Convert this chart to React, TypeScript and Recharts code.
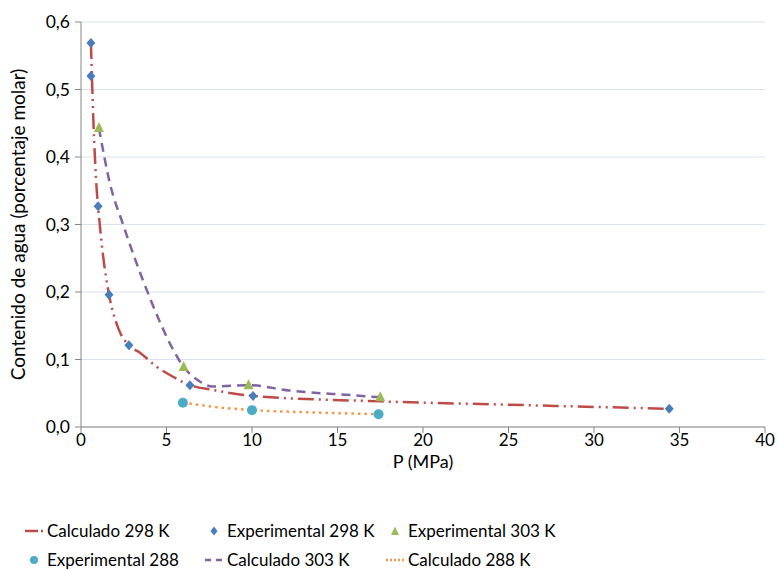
import { ComposedChart, Line, Scatter, XAxis, YAxis, CartesianGrid } from "recharts";

const FONT = "Lato, 'Open Sans', sans-serif";

// experimental points
const expP298 = [0.58, 0.58, 1.0, 1.64, 2.8, 6.37, 10.06, 34.4];
const expW298 = [0.569, 0.52, 0.327, 0.196, 0.121, 0.062, 0.046, 0.027];
const expP303 = [1.05, 6.0, 9.8, 17.5];
const expW303 = [0.443, 0.089, 0.062, 0.044];
const expP288 = [5.96, 10.0, 17.4];
const expW288 = [0.036, 0.025, 0.019];

// calculated curves
const calcP298 = [0.58, 0.73, 0.92, 1.0, 1.3, 1.64, 2.2, 2.8, 3.45, 4.44, 5.2, 6.37, 7.7, 10.06, 17.5, 25, 34.4];
const calcW298 = [0.569, 0.45, 0.351, 0.327, 0.252, 0.196, 0.145, 0.121, 0.11, 0.089, 0.077, 0.062, 0.055, 0.046, 0.038, 0.033, 0.027];
const calcP303 = [1.05, 1.7, 2.46, 4.0, 5.4, 6.0, 6.8, 7.7, 9.8, 12.2, 15.9, 17.5];
const calcW303 = [0.443, 0.36, 0.3, 0.193, 0.114, 0.089, 0.07, 0.06, 0.062, 0.054, 0.047, 0.044];
const calcP288 = [5.96, 8.1, 10.0, 13.0, 17.4];
const calcW288 = [0.036, 0.029, 0.025, 0.022, 0.019];

const xTicks = [0, 5, 10, 15, 20, 25, 30, 35, 40];
const yTicks = [0, 0.1, 0.2, 0.3, 0.4, 0.5, 0.6];

const toPts = (xs: number[], ys: number[]) => xs.map((x, i) => ({ x, y: ys[i] }));

const RED = "#be4b48";
const BLUE = "#4a7ebb";
const GREEN = "#9bbb59";
const TEAL = "#4bacc6";
const PURPLE = "#8064a2";
const ORANGE = "#f79646";

const DASH298 = "16 5 2 5 2 5";
const DASH303 = "9 6";
const DASH288 = "2.5 4";

const Diamond = (p: any) => (
  <path d={`M${p.cx},${p.cy - 5}L${p.cx + 4.5},${p.cy}L${p.cx},${p.cy + 5}L${p.cx - 4.5},${p.cy}Z`} fill={BLUE} />
);
const Triangle = (p: any) => (
  <path d={`M${p.cx},${p.cy - 6}L${p.cx + 5},${p.cy + 4}L${p.cx - 5},${p.cy + 4}Z`} fill={GREEN} />
);
const Dot = (p: any) => <circle cx={p.cx} cy={p.cy} r={5} fill={TEAL} />;

function LegendIcon({ kind }: { kind: string }) {
  return (
    <svg width={20} height={12} style={{ marginRight: 3 }}>
      {kind === "c298" && <line x1={1} y1={6} x2={19} y2={6} stroke={RED} strokeWidth={2.5} strokeDasharray="13 3 2 3" />}
      {kind === "c303" && <line x1={1} y1={6} x2={19} y2={6} stroke={PURPLE} strokeWidth={2.5} strokeDasharray="6 5" />}
      {kind === "c288" && <line x1={1} y1={6} x2={19} y2={6} stroke={ORANGE} strokeWidth={2.5} strokeDasharray="2 2" />}
      {kind === "e298" && <path d="M10,1.5L13.5,6L10,10.5L6.5,6Z" fill={BLUE} />}
      {kind === "e303" && <path d="M10,1.5L14,10L6,10Z" fill={GREEN} />}
      {kind === "e288" && <circle cx={10} cy={6} r={4} fill={TEAL} />}
    </svg>
  );
}

const legendItems = [
  { kind: "c298", label: "Calculado 298 K", left: 24, top: 520 },
  { kind: "e298", label: "Experimental 298 K", left: 204, top: 520 },
  { kind: "e303", label: "Experimental 303 K", left: 385, top: 520 },
  { kind: "e288", label: "Experimental 288", left: 24, top: 549 },
  { kind: "c303", label: "Calculado 303 K", left: 204, top: 549 },
  { kind: "c288", label: "Calculado 288 K", left: 385, top: 549 },
];

export default function App() {
  const fmtY = (v: number) => v.toFixed(1).replace(".", ",");
  return (
    <div style={{ position: "absolute", left: 0, top: 0, width: 778, height: 571, background: "#fff", fontFamily: FONT }}>
      <ComposedChart width={778} height={571} margin={{ top: 22, right: 13, left: 0, bottom: 88 }}>
        <CartesianGrid vertical={false} stroke="#d9e2f0" />
        <XAxis
          type="number"
          dataKey="x"
          domain={[0, 40]}
          ticks={xTicks}
          height={56}
          stroke="#868686"
          tickSize={6}
          tickMargin={1}
          tick={{ fontFamily: FONT, fontSize: 17, fill: "#000" }}
          label={{ value: "P (MPa)", position: "insideBottom", offset: 15, style: { fontFamily: FONT, fontSize: 18, fill: "#000" } }}
        />
        <YAxis
          type="number"
          dataKey="y"
          domain={[0, 0.6]}
          ticks={yTicks}
          width={81}
          stroke="#868686"
          tickSize={6}
          tickMargin={5}
          tickFormatter={fmtY}
          tick={{ fontFamily: FONT, fontSize: 17.5, fill: "#000" }}
          label={{
            value: "Contenido de agua (porcentaje molar)",
            angle: -90,
            position: "insideLeft",
            offset: 18,
            style: { textAnchor: "middle", fontFamily: FONT, fontSize: 19, fill: "#000" },
          }}
        />
        <Line data={toPts(calcP298, calcW298)} dataKey="y" type="monotone" stroke={RED} strokeWidth={2.5} strokeDasharray={DASH298} dot={false} isAnimationActive={false} />
        <Line data={toPts(calcP303, calcW303)} dataKey="y" type="monotone" stroke={PURPLE} strokeWidth={2.5} strokeDasharray={DASH303} dot={false} isAnimationActive={false} />
        <Line data={toPts(calcP288, calcW288)} dataKey="y" type="monotone" stroke={ORANGE} strokeWidth={2.5} strokeDasharray={DASH288} dot={false} isAnimationActive={false} />
        <Scatter data={toPts(expP298, expW298)} dataKey="y" shape={Diamond} isAnimationActive={false} />
        <Scatter data={toPts(expP303, expW303)} dataKey="y" shape={Triangle} isAnimationActive={false} />
        <Scatter data={toPts(expP288, expW288)} dataKey="y" shape={Dot} isAnimationActive={false} />
      </ComposedChart>
      {legendItems.map((it) => (
        <div
          key={it.kind}
          style={{ position: "absolute", left: it.left, top: it.top, display: "flex", alignItems: "center", fontSize: 17, color: "#000", whiteSpace: "nowrap" }}
        >
          <LegendIcon kind={it.kind} />
          {it.label}
        </div>
      ))}
    </div>
  );
}
